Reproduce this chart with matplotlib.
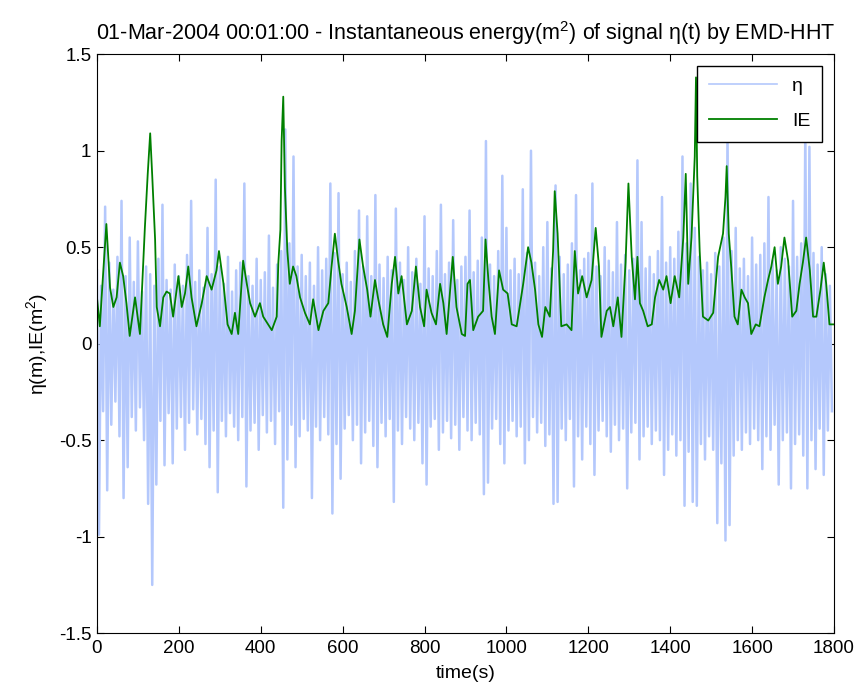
import numpy as np
import matplotlib
matplotlib.use("Agg")
import matplotlib.pyplot as plt

plt.rcParams['font.family'] = ['Liberation Sans', 'DejaVu Sans']
plt.rcParams['mathtext.fontset'] = 'custom'
plt.rcParams['mathtext.rm'] = 'Liberation Sans'
plt.rcParams['mathtext.it'] = 'Liberation Sans'

# === Surface elevation eta(t): crest / trough read per 10 s window ===
eta_crest = [
    0.38, 0.30, 0.71, 0.42, 0.28, 0.45, 0.74, 0.35, 0.55, 0.32,
    0.53, 0.27, 0.40, 0.36, 0.30, 0.44, 0.72, 0.33, 0.28, 0.41,
    0.35, 0.30, 0.46, 0.74, 0.32, 0.38, 0.29, 0.60, 0.36, 0.85,
    0.40, 0.31, 0.45, 0.27, 0.38, 0.42, 0.83, 0.35, 0.30, 0.44,
    0.33, 0.37, 0.56, 0.29, 0.41, 0.48, 1.11, 0.52, 0.97, 0.40,
    0.46, 0.35, 0.42, 0.30, 0.50, 0.38, 0.44, 0.83, 0.47, 0.78,
    0.36, 0.42, 0.32, 0.48, 0.69, 0.40, 0.66, 0.35, 0.77, 0.41,
    0.34, 0.45, 0.38, 0.70, 0.42, 0.33, 0.50, 0.37, 0.44, 0.31,
    0.66, 0.39, 0.35, 0.48, 0.72, 0.36, 0.42, 0.64, 0.33, 0.40,
    0.45, 0.69, 0.37, 0.43, 0.55, 1.05, 0.41, 0.35, 0.48, 0.87,
    0.60, 0.38, 0.44, 0.36, 0.80, 0.47, 1.00, 0.42, 0.35, 0.50,
    0.63, 0.39, 0.82, 0.45, 0.36, 0.41, 0.52, 0.77, 0.38, 0.44,
    0.47, 0.83, 0.40, 0.35, 0.50, 0.43, 0.37, 0.63, 0.41, 0.46,
    0.38, 0.44, 0.95, 0.63, 0.39, 0.45, 0.36, 0.48, 0.76, 0.42,
    0.50, 0.44, 0.58, 0.97, 0.52, 0.83, 0.60, 0.45, 0.38, 0.42,
    0.36, 0.47, 0.40, 0.55, 1.12, 0.48, 0.60, 0.39, 0.44, 0.35,
    0.55, 0.41, 0.46, 0.52, 0.76, 0.43, 0.38, 0.50, 0.44, 0.40,
    0.74, 0.45, 0.52, 1.12, 1.02, 0.47, 0.41, 0.50, 0.36, 0.30,
]
eta_trough = [
    -0.99, -0.35, -0.76, -0.42, -0.30, -0.48, -0.80, -0.64, -0.38, -0.45,
    -0.33, -0.50, -0.83, -1.25, -0.73, -0.40, -0.63, -0.36, -0.62, -0.44,
    -0.38, -0.55, -0.41, -0.34, -0.47, -0.39, -0.52, -0.64, -0.45, -0.77,
    -0.40, -0.48, -0.36, -0.43, -0.50, -0.38, -0.74, -0.45, -0.41, -0.55,
    -0.37, -0.46, -0.40, -0.52, -0.35, -0.85, -0.60, -0.42, -0.64, -0.48,
    -0.39, -0.45, -0.80, -0.43, -0.50, -0.38, -0.47, -0.88, -0.52, -0.70,
    -0.44, -0.37, -0.50, -0.42, -0.62, -0.46, -0.40, -0.53, -0.64, -0.41,
    -0.48, -0.39, -0.82, -0.45, -0.52, -0.38, -0.44, -0.50, -0.41, -0.62,
    -0.73, -0.43, -0.39, -0.55, -0.46, -0.40, -0.49, -0.42, -0.55, -0.38,
    -0.45, -0.50, -0.41, -0.47, -0.78, -0.72, -0.44, -0.39, -0.52, -0.62,
    -0.45, -0.40, -0.48, -0.43, -0.62, -0.50, -0.38, -0.46, -0.41, -0.53,
    -0.47, -0.83, -0.82, -0.44, -0.50, -0.39, -0.74, -0.48, -0.60, -0.43,
    -0.52, -0.68, -0.45, -0.40, -0.48, -0.56, -0.42, -0.50, -0.44, -0.75,
    -0.46, -0.41, -0.60, -0.48, -0.43, -0.52, -0.45, -0.50, -0.68, -0.55,
    -0.47, -0.58, -0.50, -0.84, -0.56, -0.82, -0.84, -0.52, -0.60, -0.48,
    -0.55, -0.93, -0.62, -1.02, -0.94, -0.58, -0.50, -0.55, -0.46, -0.52,
    -0.44, -0.50, -0.65, -0.48, -0.55, -0.42, -0.73, -0.50, -0.46, -0.75,
    -0.52, -0.47, -0.58, -0.75, -0.50, -0.65, -0.44, -0.68, -0.45, -0.35,
]

# === Instantaneous energy IE(t) ===
ie_time = [
    0, 7, 15, 23, 32, 40, 48, 56, 64, 72, 80, 93, 105, 117, 124, 130, 135, 142,
    146, 154, 162, 170, 178, 186, 199, 207, 215, 223, 231, 243, 256, 268, 280,
    292, 298, 309, 319, 329, 337, 345, 357, 366, 374, 386, 398, 406, 418, 427,
    439, 443, 448, 451, 455, 459, 465, 471, 479, 487, 496, 508, 520, 528, 541,
    553, 565, 573, 581, 589, 597, 610, 622, 630, 641, 650, 660, 668, 679, 687,
    699, 709, 720, 728, 736, 744, 757, 769, 779, 789, 799, 805, 817, 828, 838,
    846, 854, 869, 878, 891, 899, 905, 911, 919, 931, 943, 949, 956, 964, 972,
    982, 992, 1003, 1013, 1025, 1041, 1053, 1061, 1070, 1078, 1087, 1095, 1106,
    1114, 1118, 1125, 1134, 1147, 1159, 1167, 1175, 1185, 1196, 1208, 1218,
    1226, 1232, 1245, 1253, 1261, 1272, 1281, 1291, 1298, 1306, 1314, 1320,
    1326, 1334, 1345, 1355, 1363, 1373, 1383, 1391, 1401, 1411, 1422, 1432,
    1438, 1444, 1452, 1456, 1460, 1463, 1466, 1472, 1480, 1493, 1505, 1517,
    1529, 1535, 1538, 1543, 1549, 1557, 1565, 1574, 1582, 1590, 1598, 1609,
    1618, 1630, 1639, 1647, 1655, 1663, 1671, 1679, 1688, 1698, 1708, 1716,
    1724, 1732, 1741, 1749, 1757, 1767, 1775, 1781, 1789, 1800,
]
ie_value = [
    0.24, 0.09, 0.36, 0.62, 0.29, 0.19, 0.24, 0.42, 0.35, 0.21, 0.04, 0.24, 0.05, 0.60, 0.88, 1.09, 0.87, 0.54,
    0.19, 0.09, 0.24, 0.27, 0.26, 0.14, 0.35, 0.19, 0.26, 0.40, 0.24, 0.09, 0.21, 0.35, 0.28,
    0.38, 0.48, 0.31, 0.10, 0.05, 0.16, 0.05, 0.43, 0.31, 0.21, 0.14, 0.21, 0.14, 0.10, 0.07,
    0.14, 0.42, 0.59, 1.05, 1.28, 0.81, 0.48, 0.31, 0.40, 0.35, 0.24, 0.16, 0.10, 0.23, 0.07,
    0.17, 0.21, 0.40, 0.57, 0.43, 0.31, 0.19, 0.05, 0.17, 0.54, 0.40, 0.28, 0.14, 0.33, 0.23,
    0.10, 0.035, 0.31, 0.45, 0.26, 0.35, 0.10, 0.17, 0.40, 0.19, 0.09, 0.28, 0.16, 0.10, 0.31,
    0.21, 0.05, 0.45, 0.19, 0.05, 0.04, 0.31, 0.33, 0.07, 0.14, 0.17, 0.54, 0.33, 0.14, 0.05,
    0.38, 0.28, 0.26, 0.10, 0.09, 0.31, 0.50, 0.42, 0.28, 0.10, 0.035, 0.19, 0.14,
    0.48, 0.79, 0.57, 0.09, 0.10, 0.07, 0.48, 0.26, 0.35, 0.24, 0.33, 0.60,
    0.40, 0.035, 0.17, 0.19, 0.09, 0.24, 0.035, 0.42, 0.83, 0.45, 0.23, 0.45,
    0.21, 0.17, 0.09, 0.10, 0.24, 0.33, 0.28, 0.35, 0.21, 0.35, 0.24, 0.55,
    0.88, 0.31, 0.55, 0.76, 0.97, 1.38, 0.87, 0.48, 0.14, 0.12, 0.16, 0.45,
    0.57, 0.76, 0.92, 0.57, 0.40, 0.14, 0.10, 0.28, 0.24, 0.21, 0.05, 0.10,
    0.09, 0.24, 0.33, 0.40, 0.50, 0.31, 0.40, 0.55, 0.43, 0.14, 0.17, 0.31,
    0.42, 0.55, 0.38, 0.14, 0.14, 0.28, 0.42, 0.31, 0.10, 0.10,
]

# interleave crest/trough on a 5 s grid
eta_time = np.arange(0, 1800, 5)
eta = np.empty(len(eta_crest) * 2)
eta[0::2] = eta_crest
eta[1::2] = eta_trough

fig = plt.figure(figsize=(8.58, 6.95), dpi=100)
ax = fig.add_axes([0.113, 0.089, 0.859, 0.833])

ax.plot(eta_time, eta, color='#b4c8fc', linewidth=1.8, label='η')
ax.plot(ie_time, ie_value, color='#008000', linewidth=1.3, label='IE')

ax.set_xlim(0, 1800)
ax.set_ylim(-1.5, 1.5)
ax.set_xticks(np.arange(0, 1801, 200))
ax.set_yticks([-1.5, -1, -0.5, 0, 0.5, 1, 1.5])
ax.set_yticklabels(['-1.5', '-1', '-0.5', '0', '0.5', '1', '1.5'])
ax.tick_params(direction='in', top=True, right=True, length=5, labelsize=13.5)
ax.tick_params(axis='x', pad=5)
ax.tick_params(axis='y', pad=4)

ax.set_xlabel('time(s)', fontsize=14, labelpad=6)
ax.set_ylabel('η(m),IE(m$^2$)', fontsize=14, labelpad=6)
ax.set_title('01-Mar-2004 00:01:00 - Instantaneous energy(m$^2$) of signal η(t) by EMD-HHT',
             fontsize=15.5, pad=10)

leg = ax.legend(loc='upper right', fontsize=14, handlelength=3.5, fancybox=False,
                framealpha=1, borderaxespad=0.6, labelspacing=0.9, borderpad=0.6)
leg.get_frame().set_edgecolor('black')
leg.get_frame().set_linewidth(1.0)
leg.get_lines()[0].set_linewidth(1.2)

plt.savefig('out.png', dpi=100)
plt.close()
